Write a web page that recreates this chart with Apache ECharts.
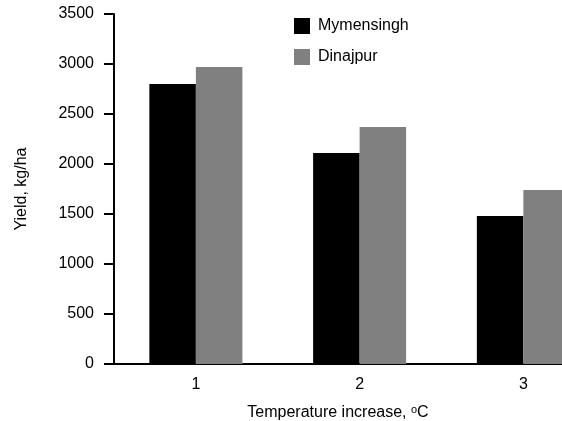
<!DOCTYPE html>
<html>
<head>
<meta charset="utf-8">
<script src="https://cdn.jsdelivr.net/npm/echarts@6/dist/echarts.min.js"></script>
<style>html,body{margin:0;padding:0;background:#fff;}#c{width:562px;height:421px;}</style>
</head>
<body>
<div id="c"></div>
<script>
var categories = [1, 2, 3];
var mymensingh = [2800, 2110, 1480];
var dinajpur = [2970, 2370, 1740];
var yTicks = [0, 500, 1000, 1500, 2000, 2500, 3000, 3500];

function pairs(vals) { return vals.map(function (v, i) { return [categories[i], v]; }); }

var FONT = '"Liberation Sans", Arial, sans-serif';
var chart = echarts.init(document.getElementById('c'));
chart.setOption({
  animation: false,
  backgroundColor: '#fff',
  textStyle: { fontFamily: FONT },
  grid: { left: 114, top: 14, right: 0, bottom: 57, containLabel: false, outerBoundsMode: 'none' },
  legend: {
    orient: 'vertical', left: 294, top: 18, padding: 0,
    itemWidth: 16, itemHeight: 16, itemGap: 15, icon: 'rect',
    textStyle: { fontFamily: FONT, fontSize: 16, color: '#000', padding: [0, 0, 0, 3] },
    data: ['Mymensingh', 'Dinajpur']
  },
  xAxis: {
    type: 'value', min: 0.5, max: 3.236,
    splitLine: { show: false },
    axisLine: { show: true, lineStyle: { color: '#000', width: 2 } },
    axisTick: { show: false },
    axisLabel: { fontFamily: FONT, fontSize: 16, color: '#000', margin: 13, customValues: categories,
      formatter: function (v) { return String(v); } },
    name: 'Temperature increase, {sup|o}C',
    nameLocation: 'middle', nameGap: 40,
    nameTextStyle: {
      fontFamily: FONT, fontSize: 16, color: '#000',
      rich: { sup: { fontFamily: FONT, fontSize: 11, color: '#000', verticalAlign: 'top', padding: [0, 0, 6, 0] } }
    }
  },
  yAxis: {
    type: 'value', min: yTicks[0], max: yTicks[yTicks.length - 1], interval: 500,
    axisLine: { show: true, lineStyle: { color: '#000', width: 2 } },
    axisTick: { show: true, length: 10, lineStyle: { color: '#000', width: 2 } },
    splitLine: { show: false },
    axisLabel: { fontFamily: FONT, fontSize: 16, color: '#000', margin: 20,
      formatter: function (v) { return String(v); } },
    name: 'Yield, kg/ha', nameLocation: 'middle', nameGap: 84,
    nameTextStyle: { fontFamily: FONT, fontSize: 16, color: '#000' }
  },
  series: [
    { name: 'Mymensingh', type: 'bar', data: pairs(mymensingh), itemStyle: { color: '#000000' }, barWidth: 46.5, barGap: '0%', clip: true },
    { name: 'Dinajpur', type: 'bar', data: pairs(dinajpur), itemStyle: { color: '#808080' }, barWidth: 46.5, barGap: '0%', clip: true }
  ]
});
</script>
</body>
</html>
